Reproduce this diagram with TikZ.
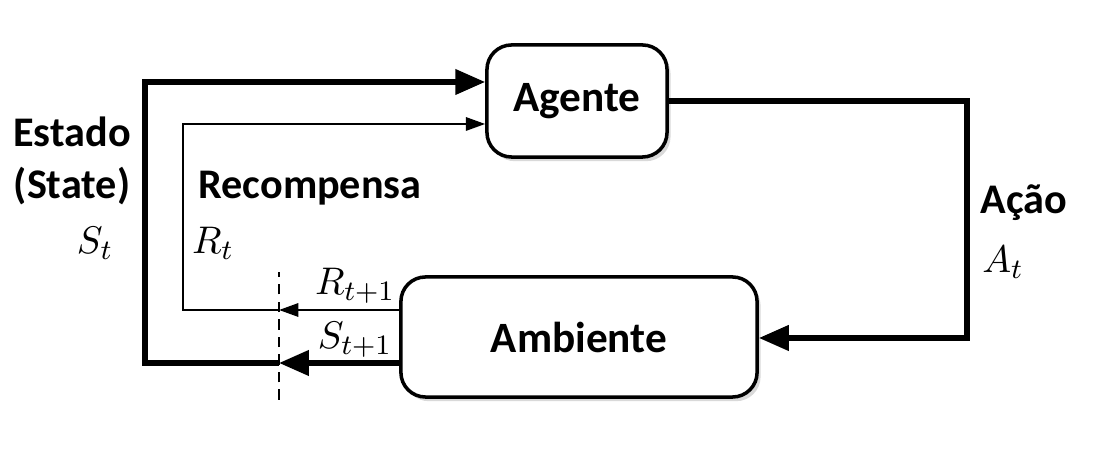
\documentclass[tikz,border=0pt]{standalone}
\usepackage{fontspec}
\setsansfont{Carlito}
\usetikzlibrary{arrows.meta,shadows}

\begin{document}
\begin{tikzpicture}[x=0.01cm,y=0.01cm,
		box/.style={draw, line width=1pt, rounded corners=7pt, fill=white,
			font=\sffamily\bfseries\fontsize{12.3}{15}\selectfont,
			drop shadow={opacity=0.3, shadow xshift=1pt, shadow yshift=-1.2pt}},
		heavy/.style={line width=1.5pt, line join=miter, -{Triangle[length=8.5pt,width=7pt]}},
		light/.style={line width=0.6pt, line join=miter, -{Triangle[length=5.5pt,width=3.8pt]}},
		lbl/.style={font=\sffamily\bfseries\fontsize{12}{15}\selectfont, align=center},
		sym/.style={font=\fontsize{11}{13}\selectfont}]
		\useasboundingbox (0,0) rectangle (1094,452);
		
		% Draw boxes
		\node[box, minimum width=1.8cm, minimum height=1.12cm] (agente) at (577,351) {Agente};
		\node[box, minimum width=3.56cm, minimum height=1.2cm] (ambiente) at (579,115) {Ambiente};
		
		% Define points
		\coordinate (sB) at (145,89);
		\coordinate (sT) at (145,370);
		\coordinate (rB) at (183,142);
		\coordinate (rT) at (183,328);
		\coordinate (cutB) at (279,52);
		\coordinate (cutT) at (279,180);
		\coordinate (aT) at (967,351);
		\coordinate (aB) at (967,114);
		
		% Draw time cut
		\draw[line width=0.5pt, dash pattern=on 3pt off 2pt] (cutB) -- (cutT);
		
		% Draw state loop
		\draw[heavy] (ambiente.west |- sB) -- (cutB |- sB);
		\draw[heavy] (cutB |- sB) -- (sB) -- (sT) -- (agente.west |- sT);
		
		% Draw reward loop
		\draw[light] (ambiente.west |- rB) -- (cutB |- rB);
		\draw[light] (cutB |- rB) -- (rB) -- (rT) -- (agente.west |- rT);
		
		% Draw action
		\draw[heavy] (agente.east) -- (aT) -- (aB) -- (ambiente.east |- aB);
		
		% Labels
		\node[lbl] (estado) at (72,291) {Estado\\(State)};
		\node[sym] (st) at (95,209) {$S_t$};
		\node[lbl] (recomp) at (310,264) {Recompensa};
		\node[sym] (rt) at (213,209) {$R_t$};
		\node[lbl] (acao) at (1024,249) {Ação};
		\node[sym] (at) at (1003,190) {$A_t$};
		\node[sym] (rnext) at (355,166) {$R_{t+1}$};
		\node[sym] (snext) at (355,112) {$S_{t+1}$};
		
	\end{tikzpicture}
\end{document}
